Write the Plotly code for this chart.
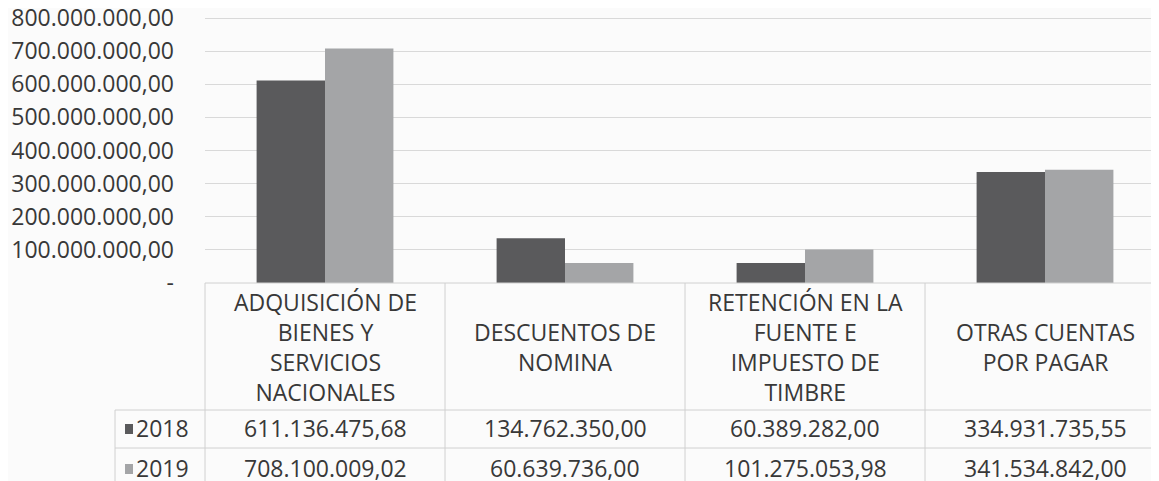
import plotly.graph_objects as go

# ---- data ----
categories = [
    "ADQUISICIÓN DE<br>BIENES Y<br>SERVICIOS<br>NACIONALES",
    "DESCUENTOS DE<br>NOMINA",
    "RETENCIÓN EN LA<br>FUENTE E<br>IMPUESTO DE<br>TIMBRE",
    "OTRAS CUENTAS<br>POR PAGAR",
]
series_names = ["2018", "2019"]
values_2018 = [611136475.68, 134762350.00, 60389282.00, 334931735.55]
values_2019 = [708100009.02, 60639736.00, 101275053.98, 341534842.00]
y_ticks = [0, 100e6, 200e6, 300e6, 400e6, 500e6, 600e6, 700e6, 800e6]

# ---- styling ----
colors = ["#5a5a5c", "#a4a5a7"]
text_color = "#383838"
line_color = "#d0d0d0"
font_family = "Open Sans, Noto Sans, sans-serif"

OFF = 8                      # default page body margin
W, H = 1159 - OFF, 481 - OFF  # figure size
ML = 205 - OFF
MT = 14 - OFF
PLOT_BOTTOM = 283 - OFF
MB = H - PLOT_BOTTOM
plot_h = PLOT_BOTTOM - MT
plot_w = W - ML
# keep 800M on pixel row 18 of the picture
Y_MAX = y_ticks[-1] * plot_h / (283 - 18)


def fmt(v):
    if v == 0:
        return "-"
    s = f"{v:,.2f}"
    return s.replace(",", "X").replace(".", ",").replace("X", ".")


def py(ypix):
    """target-picture pixel y -> paper y"""
    return (PLOT_BOTTOM - (ypix - OFF)) / plot_h


def px(xpix):
    """target-picture pixel x -> paper x"""
    return ((xpix - OFF) - ML) / plot_w


xs = list(range(len(categories)))
all_series = [values_2018, values_2019]

fig = go.Figure()
for name, vals, col in zip(series_names, all_series, colors):
    fig.add_trace(go.Bar(x=xs, y=vals, name=name,
                         marker=dict(color=col, line=dict(width=0))))

annotations = []
# category labels (table header)
for i, cat in enumerate(categories):
    annotations.append(dict(
        x=i, y=py(347), xref="x", yref="paper", text=cat, showarrow=False,
        font=dict(size=23, color=text_color, family=font_family),
        xanchor="center", yanchor="middle", align="center"))

row_centers = [428, 468]
for r, (name, vals, col) in enumerate(zip(series_names, all_series, colors)):
    yc = py(row_centers[r])
    annotations.append(dict(
        x=px(134), y=yc, xref="paper", yref="paper",
        text=name, showarrow=False,
        font=dict(size=23, color=text_color, family=font_family),
        xanchor="left", yanchor="middle"))
    for i, v in enumerate(vals):
        annotations.append(dict(
            x=i, y=yc, xref="x", yref="paper", text=fmt(v),
            showarrow=False, font=dict(size=23, color=text_color, family=font_family),
            xanchor="center", yanchor="middle"))

shapes = []
lw = dict(color=line_color, width=1)
# legend keys in the table
for r, col in enumerate(colors):
    yc = row_centers[r] + 1
    shapes.append(dict(type="rect", xref="paper", yref="paper",
                       x0=px(125), x1=px(133), y0=py(yc - 5), y1=py(yc + 5),
                       fillcolor=col, line=dict(width=0)))
# top of table (axis line)
shapes.append(dict(type="line", xref="paper", yref="paper", x0=0, x1=1, y0=0, y1=0, line=lw))
# row separators
for yp in [410, 448]:
    shapes.append(dict(type="line", xref="paper", yref="paper", x0=px(115), x1=1,
                       y0=py(yp), y1=py(yp), line=lw))
# left border of data rows
shapes.append(dict(type="line", xref="paper", yref="paper", x0=px(115), x1=px(115),
                   y0=py(410), y1=py(481), line=lw))
# column separators
shapes.append(dict(type="line", xref="paper", yref="paper", x0=0, x1=0,
                   y0=0, y1=py(481), line=lw))
for i in range(len(categories) - 1):
    shapes.append(dict(type="line", xref="x", yref="paper", x0=i + 0.5, x1=i + 0.5,
                       y0=0, y1=py(481), line=lw))

fig.update_layout(
    width=W, height=H,
    margin=dict(l=ML, r=0, t=MT, b=MB, autoexpand=False),
    paper_bgcolor="#fbfbfb", plot_bgcolor="#fbfbfb",
    barmode="group", bargap=0.43, bargroupgap=0,
    showlegend=False,
    separators=",.",
    font=dict(family=font_family, color=text_color),
    xaxis=dict(range=[-0.5, -0.5 + plot_w / 240.0], showticklabels=False,
               showgrid=False, zeroline=False, showline=False, automargin=False),
    yaxis=dict(range=[0, Y_MAX], tickvals=y_ticks, ticktext=[fmt(v) for v in y_ticks],
               tickfont=dict(size=23, color=text_color, family=font_family),
               showgrid=True, gridcolor="#d9d9d9", gridwidth=1, zeroline=False,
               showline=False, ticks="", ticklabelstandoff=30, automargin=False,
               ticklabeloverflow="allow"),
    annotations=annotations, shapes=shapes,
)

fig.write_html("out.html")
